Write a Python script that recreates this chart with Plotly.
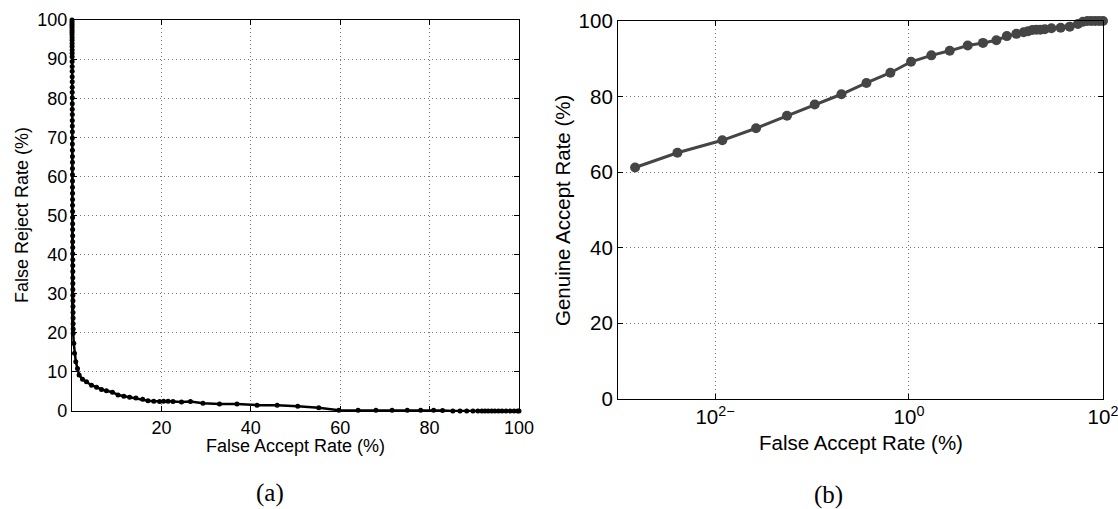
import plotly.graph_objects as go

W, H = 1118, 509

# ---------------- (a) DET curve data ----------------
far_a = [0.00, 0.00, 0.00, 0.00, 0.01, 0.01, 0.01, 0.01, 0.02, 0.02,
         0.02, 0.02, 0.03, 0.03, 0.03, 0.03, 0.04, 0.04, 0.04, 0.05,
         0.05, 0.05, 0.06, 0.06, 0.06, 0.07, 0.07, 0.07, 0.08, 0.08,
         0.08, 0.09, 0.09, 0.10, 0.10, 0.10, 0.11, 0.11, 0.12, 0.12,
         0.12, 0.13, 0.13, 0.14, 0.14, 0.15, 0.15, 0.16, 0.16, 0.17,
         0.17, 0.18, 0.18, 0.19, 0.19, 0.20, 0.21, 0.22, 0.23, 0.24,
         0.25, 0.26,
         0.27, 0.40, 0.56, 0.85, 1.23, 1.60, 2.35, 3.24, 4.36, 5.50,
         6.60, 7.70, 9.05, 10.3, 11.6, 12.9, 14.3, 15.8, 17.0, 18.3,
         19.6, 20.5, 21.5, 22.6, 24.5, 26.5, 29.3, 33.0, 36.9, 41.4,
         45.9, 50.5, 55.2, 59.7, 64.0, 68.0, 71.6, 75.0, 78.0, 80.9,
         82.9, 85.2, 86.8, 88.3, 89.7, 90.8, 91.7, 92.4, 93.1, 93.9,
         94.6, 95.4, 96.2, 97.1, 98.0, 98.9, 99.7, 100.0]
frr_a = [100.0, 99.5, 99.0, 98.5, 98.0, 97.4, 96.8, 96.2, 95.5, 94.8,
         94.0, 93.2, 92.3, 91.5, 90.6, 89.4, 88.1, 86.9, 85.5, 84.2,
         82.8, 81.5, 80.1, 78.6, 77.2, 75.8, 74.3, 72.9, 71.4, 69.8,
         68.3, 66.7, 65.1, 63.6, 62.0, 60.4, 58.8, 57.2, 55.7, 54.1,
         52.6, 51.0, 49.5, 47.9, 46.4, 44.8, 43.3, 41.8, 40.2, 38.7,
         37.2, 35.7, 34.1, 32.6, 31.1, 29.6, 28.2, 26.7, 25.2, 23.8,
         22.3, 21.0,
         19.9, 17.3, 14.8, 12.6, 10.9, 9.2, 8.1, 7.5, 6.6, 6.1,
         5.5, 5.2, 4.8, 4.1, 3.8, 3.5, 3.3, 3.0, 2.6, 2.5,
         2.4, 2.5, 2.5, 2.4, 2.3, 2.4, 2.0, 1.8, 1.8, 1.5,
         1.45, 1.2, 0.85, 0.2, 0.2, 0.2, 0.2, 0.2, 0.2, 0.2,
         0.1, 0.0, 0.0, 0.0, 0.0, 0.0, 0.0, 0.0, 0.0, 0.0,
         0.0, 0.0, 0.0, 0.0, 0.0, 0.0, 0.0, 0.0]

xticks_a = [20, 40, 60, 80, 100]
yticks_a = [0, 10, 20, 30, 40, 50, 60, 70, 80, 90, 100]

# ---------------- (b) ROC curve data ----------------
far_b = [0.0015, 0.0041, 0.0119, 0.0265, 0.0552, 0.1067, 0.201, 0.364, 0.643,
         1.05, 1.70, 2.63, 4.03, 5.79, 7.96, 10.2, 12.8, 15.2, 16.9, 18.7,
         20.6, 22.6, 25.1, 29.4, 36.6, 45.4, 55.2, 62.2, 69.2, 75.9, 83.2,
         91.2, 100.0]
gar_b = [61.2, 65.1, 68.4, 71.6, 74.9, 77.9, 80.6, 83.6, 86.3,
         89.2, 90.9, 92.1, 93.5, 94.2, 94.9, 96.0, 96.6, 97.0, 97.3, 97.6,
         97.7, 97.7, 97.8, 98.1, 98.2, 98.5, 99.2, 99.8, 100.0, 100.0, 100.0,
         100.0, 100.0]

xticks_b = [0.01, 1, 100]
xticktext_b = ["10<sup>2−</sup>", "10<sup>0</sup>", "10<sup>2</sup>"]
yticks_b = [0, 20, 40, 60, 80, 100]

FONT = "Liberation Sans, Arial, Helvetica, sans-serif"
SERIF = "Liberation Serif, Times New Roman, serif"


def px_x(p):
    return p / W


def px_y(p):
    return (H - p) / H


fig = go.Figure()

fig.add_trace(go.Scatter(
    x=far_a, y=frr_a, mode="lines+markers", xaxis="x", yaxis="y",
    line=dict(color="black", width=2.5),
    marker=dict(color="black", size=5),
    cliponaxis=False, showlegend=False))

fig.add_trace(go.Scatter(
    x=far_b, y=gar_b, mode="lines+markers", xaxis="x2", yaxis="y2",
    line=dict(color="#454545", width=3),
    marker=dict(color="#454545", size=10),
    cliponaxis=False, showlegend=False))

common = dict(showline=True, linecolor="black", linewidth=1.2, mirror="ticks",
              ticks="inside", ticklen=5, tickcolor="black", tickwidth=1,
              showgrid=True, gridcolor="#777777", griddash="1px,3px", gridwidth=1,
              zeroline=False, automargin=False, ticklabeloverflow="allow")

fig.update_layout(
    width=W, height=H,
    margin=dict(l=0, r=0, t=0, b=0),
    paper_bgcolor="white", plot_bgcolor="white",
    font=dict(family=FONT, color="black"),
    xaxis=dict(domain=[px_x(72), px_x(519)], range=[0, 100.0001], tickvals=xticks_a,
               tickfont=dict(size=18), anchor="y", **common),
    yaxis=dict(domain=[px_y(411), px_y(20)], range=[0, 100.0001], tickvals=yticks_a,
               tickfont=dict(size=18), anchor="x", **common),
    xaxis2=dict(domain=[px_x(618), px_x(1103)], type="log", range=[-3, 2.0001],
                tickvals=xticks_b, ticktext=xticktext_b,
                tickfont=dict(size=20.5), anchor="y2", **common),
    yaxis2=dict(domain=[px_y(398.6), px_y(21)], range=[0, 100.0001], tickvals=yticks_b,
                tickfont=dict(size=20.5), anchor="x2", **common),
)

annots = [
    dict(text="False Accept Rate (%)", x=px_x(295), y=px_y(446), font=dict(size=18)),
    dict(text="False Reject Rate (%)", x=px_x(22), y=px_y(215), font=dict(size=18), textangle=-90),
    dict(text="False Accept Rate (%)", x=px_x(861), y=px_y(442), font=dict(size=20.5)),
    dict(text="Genuine Accept Rate (%)", x=px_x(562), y=px_y(211), font=dict(size=20.5), textangle=-90),
    dict(text="(a)", x=px_x(270), y=px_y(493), font=dict(size=25, family=SERIF)),
    dict(text="(b)", x=px_x(828), y=px_y(495), font=dict(size=25, family=SERIF)),
]
for a in annots:
    fig.add_annotation(xref="paper", yref="paper", showarrow=False,
                       xanchor="center", yanchor="middle", **a)

fig.write_html("out.html")
